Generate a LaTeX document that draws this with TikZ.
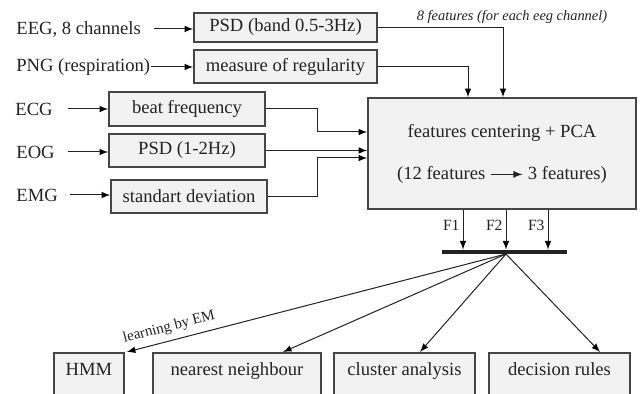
\documentclass[tikz,border=0pt]{standalone}
\usepackage{fontspec}
\setmainfont{Liberation Serif}
\usetikzlibrary{calc}
\usetikzlibrary{positioning}
\usetikzlibrary{arrows}
\definecolor{boxfill}{RGB}{242,242,242}
\definecolor{boxline}{RGB}{70,70,70}
\definecolor{ink}{RGB}{35,35,35}

\begin{document}
\begin{tikzpicture}[x=0.5pt,y=-0.5pt,>=latex,font=\fontsize{9.3}{11}\selectfont,
  box/.style={draw=boxline,fill=boxfill,line width=0.8pt,inner sep=0pt,text=ink},
  sig/.style={anchor=west,inner sep=0pt,text=ink},
  outbox/.style={box,anchor=north,text height=7pt,text depth=24pt,inner ysep=4.5pt},
  feat/.style={font=\fontsize{7.8}{9}\selectfont,text=ink,inner sep=1.5pt},
  link/.style={draw=ink,line width=0.5pt,->}]

\useasboundingbox (0,0) rectangle (641,394);

% input signals
\node[sig] (eeg) at (16,29) {EEG, 8 channels};
\node[sig] (png) at (16,67) {PNG (respiration)};
\node[sig] (ecg) at (15,109) {ECG};
\node[sig] (eog) at (16,152) {EOG};
\node[sig] (emg) at (16,195) {EMG};

% feature extraction
\node[box,minimum width=91.5pt,minimum height=14.5pt] (psd) at (285.5,27.5) {PSD (band 0.5-3Hz)};
\node[box,minimum width=91.5pt,minimum height=16.5pt] (reg) at (285.5,66.5) {measure of regularity};
\node[box,minimum width=78pt,minimum height=17pt] (beat) at (187,109) {beat frequency};
\node[box,minimum width=78pt,minimum height=16.5pt] (psdeog) at (187,150.5) {PSD (1-2Hz)};
\node[box,minimum width=78pt,minimum height=16.5pt] (std) at (189,196.5) {standart deviation};

\node[box,minimum width=134pt,minimum height=55.5pt,align=center] (pca) at (502,153.5)
  {features centering + PCA\\[10pt](12 features \tikz[baseline=-0.55ex]\draw[-latex,draw=ink,line width=0.6pt](0pt,0pt)--(16pt,0pt); 3 features)};

\node[feat,font=\fontsize{7.2}{8}\selectfont\itshape] (eegnote) at (512,17) {8 features (for each eeg channel)};

\draw[link] ([xshift=6.5pt]eeg.east) -- (eeg.east -| psd.west);
\draw[link] (png.east) -- (png.east -| reg.west);
\draw[link] ([xshift=7.5pt]ecg.east) -- (ecg.east -| beat.west);
\draw[link] ([xshift=6.5pt]eog.east) -- (eog.east -| psdeog.west);
\draw[link] ([xshift=6pt]emg.east) -- (emg.east -| std.west);

\draw[link] (psd.east) -| ([xshift=0.5pt]pca.north);
\draw[link] (reg.east) -| ([xshift=-17pt]pca.north);
\draw[link] (beat.east) -- ++(26pt,0) |- ([yshift=10.75pt]pca.west);
\draw[link] (psdeog.east) -- (psdeog.east -| pca.west);
\draw[link] (std.east) -- ++(25pt,0) |- ([yshift=-2.25pt]pca.west);

% three components
\node[fill=ink,inner sep=0pt,minimum width=62.5pt,minimum height=2pt] (bar) at (504.5,252) {};
\coordinate (f1) at ([xshift=-19.5pt]pca.south);
\coordinate (f2) at ([xshift=2pt]pca.south);
\coordinate (f3) at ([xshift=23pt]pca.south);
\draw[link] (f1) -- (f1 |- bar.north) node[feat,pos=0.4,left] {F1};
\draw[link] (f2) -- (f2 |- bar.north) node[feat,pos=0.4,left] {F2};
\draw[link] (f3) -- (f3 |- bar.north) node[feat,pos=0.4,left] {F3};
\coordinate (hub) at (506,254);

% classifiers
\node[outbox,minimum width=35pt] (hmm) at (89,352) {HMM};
\node[outbox,minimum width=84pt] (nn) at (237,352) {nearest neighbour};
\node[outbox,minimum width=70.5pt] (cluster) at (404.5,352) {cluster analysis};
\node[outbox,minimum width=70.5pt] (rules) at (559.5,352) {decision rules};

\draw[link] (hub) -- ([xshift=1pt]hmm.north east)
  node[pos=0.88,above,sloped,feat,font=\fontsize{7.5}{8}\selectfont,inner sep=3pt] {learning by EM};
\draw[link] (hub) -- ([xshift=23pt]nn.north);
\draw[link] (hub) -- ([xshift=7.75pt]cluster.north);
\draw[link] (hub) -- ([xshift=20.25pt]rules.north);
\end{tikzpicture}
\end{document}
